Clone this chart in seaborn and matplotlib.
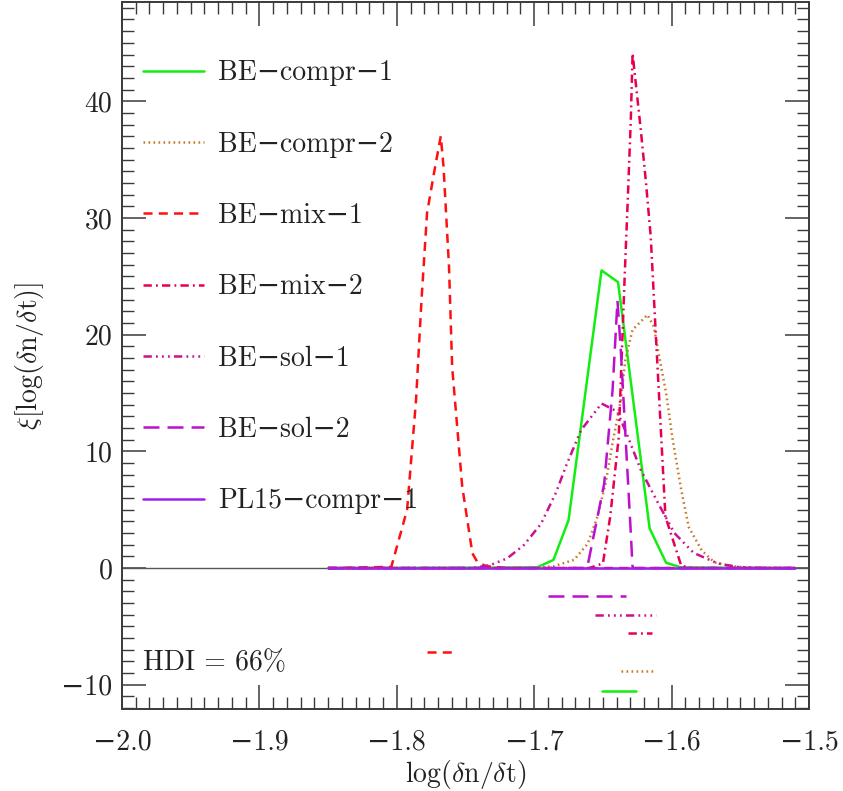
import numpy as np
import pandas as pd
import matplotlib
matplotlib.use("Agg")
import matplotlib.pyplot as plt
from matplotlib.ticker import MultipleLocator, FuncFormatter
import seaborn as sns

# ---------------- data ----------------
labels = ["BE\u2212compr\u22121", "BE\u2212compr\u22122", "BE\u2212mix\u22121",
          "BE\u2212mix\u22122", "BE\u2212sol\u22121", "BE\u2212sol\u22122",
          "PL15\u2212compr\u22121"]

compr1_x = [-1.85, -1.698, -1.686, -1.675, -1.651, -1.639, -1.616, -1.604, -1.593, -1.51]
compr1_y = [0, 0.05, 0.7, 4.1, 25.5, 24.5, 3.4, 0.45, 0.05, 0]

compr2_x = [-1.85, -1.70, -1.686, -1.671, -1.661, -1.654, -1.648, -1.643, -1.637, -1.6337,
            -1.6285, -1.6176, -1.613, -1.609, -1.604, -1.5995, -1.593, -1.5875, -1.578,
            -1.569, -1.559, -1.545, -1.51]
compr2_y = [0, 0, 0.15, 0.7, 2.1, 4.4, 7.3, 10.7, 14.4, 17.8, 20.4, 21.7, 20.7, 18.1, 15.0,
            11.2, 6.7, 3.5, 1.5, 0.5, 0.2, 0.05, 0]

mix1_x = [-1.85, -1.804, -1.7925, -1.786, -1.782, -1.778, -1.773, -1.768, -1.766, -1.762,
          -1.7597, -1.7524, -1.745, -1.7415, -1.7354, -1.72, -1.51]
mix1_y = [0, 0.1, 5.0, 14.4, 23.0, 30.4, 33.8, 37.0, 34.4, 25.8, 17.2, 7.0, 1.26, 0.55,
          0.17, 0, 0]

mix2_x = [-1.85, -1.66, -1.650, -1.6447, -1.6385, -1.634, -1.632, -1.6297, -1.6284,
          -1.6276, -1.6224, -1.6188, -1.6152, -1.6133, -1.6115, -1.6045, -1.593, -1.585, -1.51]
mix2_y = [0, 0, 0.4, 4.4, 11.2, 25.5, 31.3, 38.4, 44.1, 43.2, 37.5, 33.2, 28.4, 24.1,
          20.0, 4.4, 0.2, 0, 0]

sol1_x = [-1.85, -1.745, -1.732, -1.7197, -1.7075, -1.695, -1.684, -1.677, -1.666, -1.651,
          -1.6395, -1.632, -1.6224, -1.610, -1.598, -1.584, -1.5666, -1.552, -1.535, -1.51]
sol1_y = [0, 0, 0.25, 0.83, 1.97, 3.8, 6.5, 8.7, 11.8, 14.1, 13.4, 11.3, 8.4, 5.6, 3.0,
          1.3, 0.4, 0.1, 0, 0]

sol2_x = [-1.85, -1.6615, -1.6589, -1.6491, -1.6430, -1.6394, -1.6370, -1.6330, -1.6297,
          -1.6285, -1.628, -1.51]
sol2_y = [0, 0, 1.5, 7.2, 15.2, 22.9, 18.7, 10.1, 3.0, 0.2, 0, 0]

pl15_x = [-1.85, -1.51]
pl15_y = [0, 0]

# HDI (66%) intervals, drawn below zero
hdi_lo = [-1.651, -1.6366, -1.7777, -1.6314, -1.656, -1.690]
hdi_hi = [-1.626, -1.6115, -1.7595, -1.6145, -1.6115, -1.633]
hdi_y = [-10.5, -8.85, -7.2, -5.6, -4.0, -2.4]

colors = ["#12ee12", "#c8782a", "#ff1010", "#e8004e", "#cc1090", "#bb10cc", "#a020f0"]
styles = ["-", (0, (1.2, 2.4)), (0, (6.5, 4.5)), (0, (6, 3, 1.3, 3)),
          (0, (6, 3, 1.3, 3, 1.3, 3, 1.3, 3)), (0, (11.5, 5.8)), "-"]

xs = [compr1_x, compr2_x, mix1_x, mix2_x, sol1_x, sol2_x, pl15_x]
ys = [compr1_y, compr2_y, mix1_y, mix2_y, sol1_y, sol2_y, pl15_y]

# ---------------- style ----------------
sns.set_theme(style="ticks")
plt.rcParams["font.family"] = ["cmr10", "DejaVu Serif"]
plt.rcParams["mathtext.fontset"] = "cm"
plt.rcParams["axes.formatter.use_mathtext"] = False
plt.rcParams["lines.scale_dashes"] = False
plt.rcParams["axes.unicode_minus"] = True

fig = plt.figure(figsize=(8.43, 7.91), dpi=100)
ax = fig.add_axes([0.1447, 0.1033, 0.8150, 0.8942])

ax.axhline(0, color="#555555", lw=1.0, zorder=1)

lw = 1.8
# draw PL15 first (flat), then the others
order = [6, 0, 1, 2, 3, 4, 5]
handles = {}
for i in order:
    df = pd.DataFrame({"x": xs[i], "y": ys[i]})
    n0 = len(ax.lines)
    sns.lineplot(data=df, x="x", y="y", ax=ax, color=colors[i], lw=lw,
                 linestyle=styles[i], estimator=None, sort=False, label=labels[i],
                 zorder=2 + i)
    handles[i] = ax.lines[n0]

for k in range(len(hdi_y)):
    df = pd.DataFrame({"x": [hdi_lo[k], hdi_hi[k]], "y": [hdi_y[k], hdi_y[k]]})
    sns.lineplot(data=df, x="x", y="y", ax=ax, color=colors[k], lw=lw,
                 linestyle=styles[k], estimator=None, sort=False, legend=False)

ax.text(-1.9847, -8.1, "HDI = 66%", fontsize=20, va="center", ha="left", color="#222222")

ax.set_xlim(-2.0, -1.5)
ax.set_ylim(-12.1, 48.5)
ax.xaxis.set_major_locator(MultipleLocator(0.1))
ax.xaxis.set_minor_locator(MultipleLocator(0.01))
ax.yaxis.set_major_locator(MultipleLocator(10))
ax.yaxis.set_minor_locator(MultipleLocator(1))
ax.xaxis.set_major_formatter(FuncFormatter(lambda v, p: f"{v:.1f}".replace("-", "\u2212")))
ax.yaxis.set_major_formatter(FuncFormatter(lambda v, p: f"{v:.0f}".replace("-", "\u2212")))

spc = "#3a3a3a"
for s in ax.spines.values():
    s.set_color(spc)
    s.set_linewidth(1.4)
ax.tick_params(which="both", direction="in", top=True, right=True, color=spc,
               labelsize=20, labelcolor="#222222")
ax.tick_params(which="major", length=17, width=1.1)
ax.tick_params(which="minor", length=8.5, width=1.0)
ax.tick_params(axis="x", which="major", pad=14)
ax.tick_params(axis="y", which="major", pad=7)

ax.set_xlabel(r"$\log(\delta\mathrm{n}/\delta\mathrm{t})$", fontsize=20, labelpad=2,
              color="#222222")
ax.set_ylabel(r"$\xi[\log(\delta\mathrm{n}/\delta\mathrm{t})]$", fontsize=20, labelpad=11,
              color="#222222")

leg = ax.legend(handles=[handles[i] for i in range(7)], labels=labels,
                loc="upper left", bbox_to_anchor=(0.0306, 0.918), frameon=False,
                fontsize=20, handlelength=2.2, handletextpad=0.5, labelspacing=1.62,
                borderpad=0, borderaxespad=0)
for t in leg.get_texts():
    t.set_color("#222222")

fig.savefig("out.png", dpi=100)
